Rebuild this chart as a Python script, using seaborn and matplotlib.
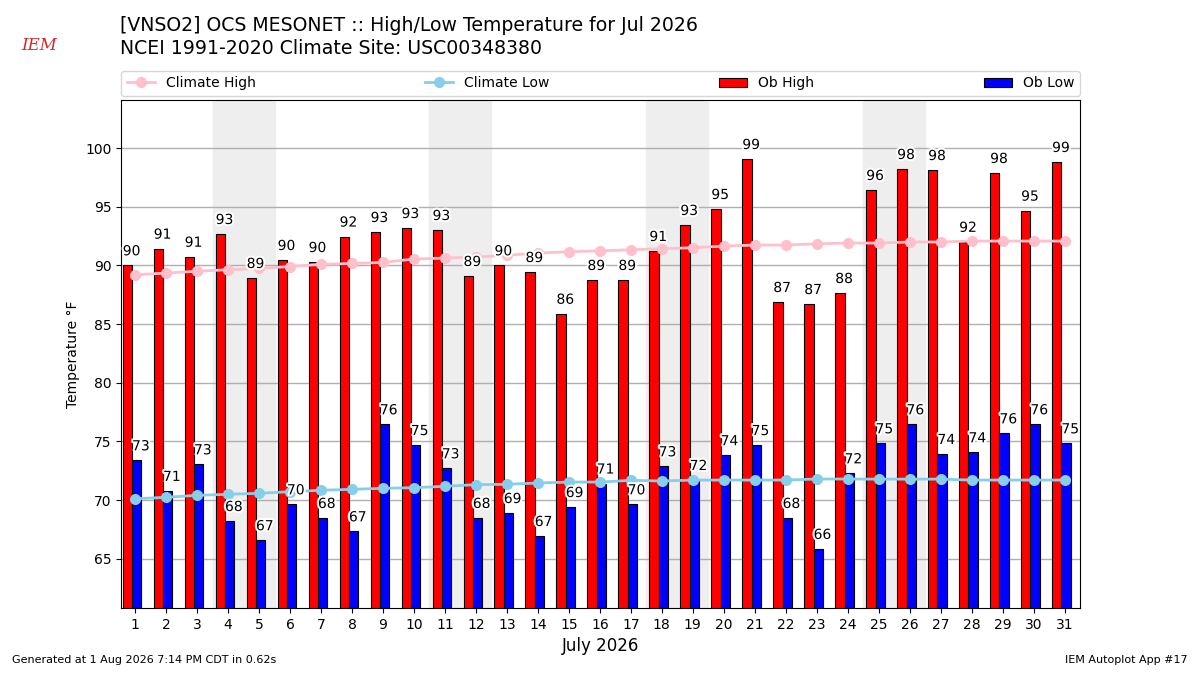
import numpy as np
import pandas as pd
import matplotlib
matplotlib.use("Agg")
import matplotlib.pyplot as plt
import matplotlib.patheffects as pe
import seaborn as sns

# daily values (deg F)
days = np.arange(1, 32)
ob_high = [90.0, 91.42, 90.73, 92.67, 88.92, 90.45, 90.28, 92.45, 92.84, 93.18,
           93.01, 89.09, 90.0, 89.43, 85.87, 88.75, 88.75, 91.22, 93.44, 94.80,
           99.06, 86.87, 86.70, 87.64, 96.42, 98.21, 98.12, 92.0, 97.87, 94.66, 98.81]
ob_low = [73.38, 70.77, 73.04, 68.21, 66.57, 69.63, 68.47, 67.33, 76.45, 74.68,
          72.70, 68.47, 68.89, 66.93, 69.40, 71.40, 69.63, 72.87, 71.70, 73.81,
          74.68, 68.47, 65.83, 72.27, 74.83, 76.45, 73.92, 74.06, 75.68, 76.45, 74.83]
clim_high = [89.2, 89.34, 89.5, 89.63, 89.74, 89.9, 90.08, 90.16, 90.25, 90.54,
             90.62, 90.71, 90.85, 91.05, 91.16, 91.24, 91.33, 91.42, 91.5, 91.64,
             91.73, 91.73, 91.84, 91.9, 91.9, 91.99, 91.99, 92.07, 92.07, 92.07, 92.07]
clim_low = [70.11, 70.23, 70.4, 70.49, 70.57, 70.71, 70.83, 70.91, 71.0, 71.05,
            71.17, 71.31, 71.34, 71.45, 71.53, 71.53, 71.68, 71.62, 71.7, 71.7,
            71.7, 71.7, 71.79, 71.79, 71.78, 71.78, 71.78, 71.7, 71.7, 71.7, 71.7]
weekends = [(4, 5), (11, 12), (18, 19), (25, 26)]

df = pd.DataFrame({"day": days, "high": ob_high, "low": ob_low,
                   "chigh": clim_high, "clow": clim_low})
df["xh"] = df["day"] - 0.25
df["xl"] = df["day"] + 0.05

fig = plt.figure(figsize=(12, 6.75), dpi=100)
ax = fig.add_axes([0.101, 0.0993, 0.799, 0.7527])
ax.set_axisbelow(True)

for a, b in weekends:
    ax.axvspan(a - 0.5, b + 0.5, color="#eeeeee", zorder=0)

sns.barplot(data=df, x="xh", y="high", native_scale=True, width=0.3,
            color="red", saturation=1, edgecolor="black", linewidth=0.8,
            errorbar=None, label="Ob High", ax=ax)
sns.barplot(data=df, x="xl", y="low", native_scale=True, width=0.3,
            color="blue", saturation=1, edgecolor="black", linewidth=0.8,
            errorbar=None, label="Ob Low", ax=ax)

sns.lineplot(data=df, x="day", y="chigh", color="pink", marker="o",
             markersize=8, markeredgewidth=0, linewidth=2,
             label="Climate High", ax=ax, zorder=4)
sns.lineplot(data=df, x="day", y="clow", color="skyblue", marker="o",
             markersize=8, markeredgewidth=0, linewidth=2,
             label="Climate Low", ax=ax, zorder=4)

# value labels, white halo like the original
stroke = [pe.withStroke(linewidth=3, foreground="white")]
for d, h, l in zip(days, ob_high, ob_low):
    ax.text(d - 0.4, h + 0.6, f"{round(h):.0f}", ha="left", va="bottom",
            fontsize=10, zorder=6, path_effects=stroke)
    ax.text(d - 0.1, l + 0.6, f"{round(l):.0f}", ha="left", va="bottom",
            fontsize=10, zorder=6, path_effects=stroke)

ax.set_xlim(0.55, 31.5)
ax.set_ylim(60.8, 104.1)
ax.set_xticks(days)
ax.set_xticklabels([str(d) for d in days])
ax.set_yticks(range(65, 101, 5))
ax.grid(axis="y", color="#b0b0b0", linewidth=1)
ax.grid(axis="x", visible=False)
ax.set_xlabel("July 2026", fontsize=12)
ax.set_ylabel("Temperature \u00b0F")

handles, labels = ax.get_legend_handles_labels()
order = [labels.index(n) for n in ["Climate High", "Climate Low", "Ob High", "Ob Low"]]
ax.legend([handles[i] for i in order], [labels[i] for i in order],
          loc="lower left", bbox_to_anchor=(0, 1.008, 1, 0.05),
          mode="expand", ncol=4, borderaxespad=0, fontsize=10)

fig.text(0.1, 0.976, "[VNSO2] OCS MESONET :: High/Low Temperature for Jul 2026\n"
         "NCEI 1991-2020 Climate Site: USC00348380",
         ha="left", va="top", fontsize=13.6, linespacing=1.27)
fig.text(0.018, 0.932, "IEM", color="#d42a2a", fontsize=12, family="serif",
         style="italic", ha="left", va="center")
fig.text(0.01, 0.015, "Generated at 1 Aug 2026 7:14 PM CDT in 0.62s",
         fontsize=8, ha="left", va="bottom")
fig.text(0.99, 0.015, "IEM Autoplot App #17", fontsize=8, ha="right", va="bottom")

fig.savefig("out.png", dpi=100)
